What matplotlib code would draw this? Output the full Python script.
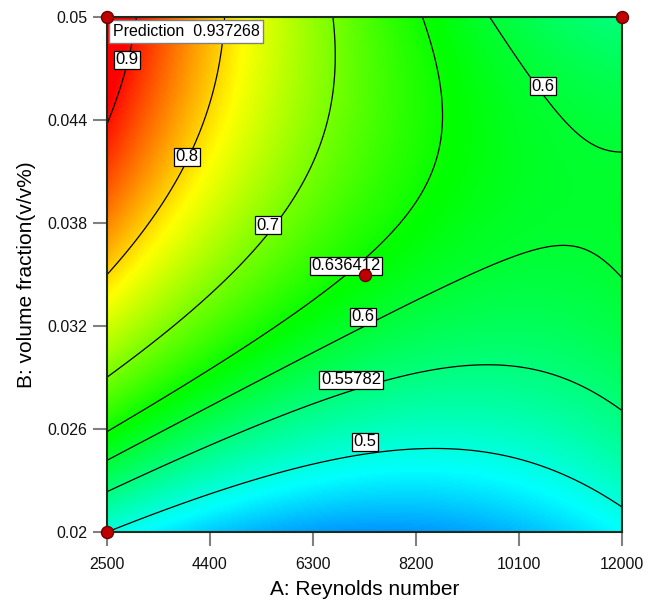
import numpy as np
import matplotlib
matplotlib.use('Agg')
import matplotlib.pyplot as plt
from matplotlib.colors import LinearSegmentedColormap, Normalize

plt.rcParams['font.family'] = ['Liberation Sans', 'DejaVu Sans']

# factor ranges (actual units)
re_range = [2500, 12000]
vf_range = [0.02, 0.05]

# quadratic model in coded units
coef_const = 0.629
coef_a = -0.0998
coef_b = 0.1281
coef_ab = -0.0904
coef_aa = 0.0713
coef_bb = -0.0815

# contour levels
levels = [0.5, 0.55782, 0.6, 0.636412, 0.7, 0.8, 0.9]

# contour labels and where they sit (Re, vf)
label_text = ['0.9', '0.8', '0.7', '0.636412', '0.6', '0.6', '0.55782', '0.5']
label_re = [2870, 3976, 5470, 6909, 7223, 10543, 7002, 7257]
label_vf = [0.0475, 0.04185, 0.03788, 0.0355, 0.03253, 0.04598, 0.02886, 0.02525]

# design points shown on the plot
pts_re = [2500, 12000, 7250, 2500]
pts_vf = [0.05, 0.05, 0.035, 0.02]

prediction_text = 'Prediction  0.937268'

x_ticks = [2500, 4400, 6300, 8200, 10100, 12000]
y_ticks = [0.02, 0.026, 0.032, 0.038, 0.044, 0.05]

# colour ramp: response value -> colour
ramp_vals = [0.33, 0.48, 0.63, 0.78, 0.91]
ramp_cols = ['#0000ff', '#00ffff', '#00ff00', '#ffff00', '#ff0000']


def response(a, b):
    return (coef_const + coef_a * a + coef_b * b + coef_ab * a * b
            + coef_aa * a ** 2 + coef_bb * b ** 2)


def main():
    re = np.linspace(re_range[0], re_range[1], 300)
    vf = np.linspace(vf_range[0], vf_range[1], 300)
    RE, VF = np.meshgrid(re, vf)
    a = (RE - np.mean(re_range)) / ((re_range[1] - re_range[0]) / 2)
    b = (VF - np.mean(vf_range)) / ((vf_range[1] - vf_range[0]) / 2)
    Z = response(a, b)

    lo, hi = ramp_vals[0], ramp_vals[-1]
    stops = [(v - lo) / (hi - lo) for v in ramp_vals]
    cmap = LinearSegmentedColormap.from_list('de', list(zip(stops, ramp_cols)))

    fig = plt.figure(figsize=(6.56, 6.07), dpi=100)
    ax = fig.add_axes([107 / 656, 75 / 607, 515 / 656, 515 / 607])

    ax.imshow(Z, origin='lower', aspect='auto', cmap=cmap,
              norm=Normalize(lo, hi), interpolation='bilinear',
              extent=[re_range[0], re_range[1], vf_range[0], vf_range[1]])

    ax.contour(RE, VF, Z, levels=levels, colors='black', linewidths=0.9)

    # labels in white boxes, like the design software draws them
    for txt, x, y in zip(label_text, label_re, label_vf):
        ax.text(x, y, txt, fontsize=12, ha='center', va='center', zorder=4,
                bbox=dict(boxstyle='square,pad=0.1', fc='white',
                          ec='black', lw=0.9))

    ax.annotate(prediction_text, xy=(re_range[0], vf_range[1]),
                xytext=(4, -5), textcoords='offset points', ha='left',
                va='top', fontsize=11.5,
                bbox=dict(boxstyle='square,pad=0.25', fc='white',
                          ec='#808080', lw=1.0), zorder=6)

    ax.scatter(pts_re, pts_vf, s=75, c='#c00000', edgecolors='#6a0000',
               linewidths=1.0, zorder=7, clip_on=False)

    ax.set_xlim(re_range)
    ax.set_ylim(vf_range)
    ax.set_xticks(x_ticks)
    ax.set_xticklabels([str(v) for v in x_ticks])
    ax.set_yticks(y_ticks)
    ax.set_yticklabels([('%g' % v) for v in y_ticks])
    ax.tick_params(direction='out', length=10, width=1.5, color='#808080',
                   labelsize=11.5, labelcolor='#111111')
    ax.tick_params(axis='x', pad=8)
    ax.tick_params(axis='y', pad=4)
    for s in ax.spines.values():
        s.set_color('#1c2c1c')
        s.set_linewidth(1.5)

    ax.set_xlabel('A: Reynolds number', fontsize=15, labelpad=6)
    ax.set_ylabel('B: volume fraction(v/v%)', fontsize=15, labelpad=8)

    fig.savefig('out.png', dpi=100)


if __name__ == '__main__':
    main()
